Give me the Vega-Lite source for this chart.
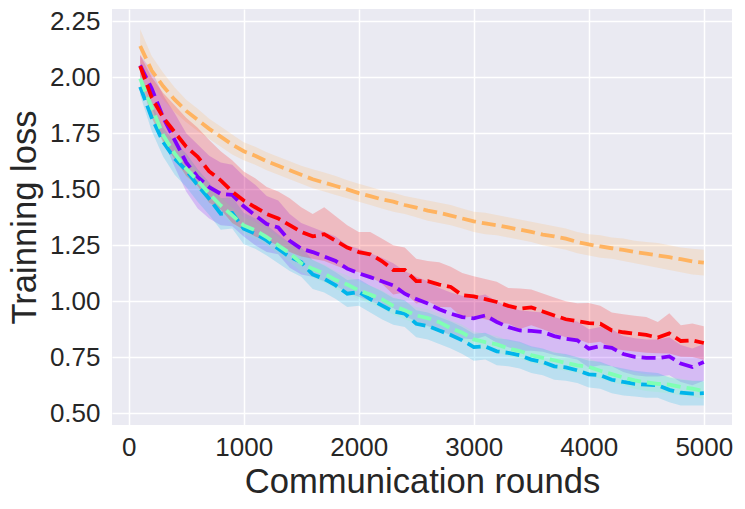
{
  "$schema": "https://vega.github.io/schema/vega-lite/v6.json",
  "width": 620,
  "height": 416,
  "autosize": {"type": "none"},
  "padding": {"left": 112, "top": 9, "right": 13, "bottom": 84},
  "background": "white",
  "config": {
    "view": {"fill": "#eaeaf2", "stroke": null},
    "axis": {
      "domain": false,
      "ticks": false,
      "grid": true,
      "gridColor": "white",
      "gridWidth": 1.5,
      "labelFont": "Liberation Sans",
      "labelFontSize": 26,
      "labelColor": "#262626",
      "titleFont": "Liberation Sans",
      "titleFontSize": 34.6,
      "titleFontWeight": "normal",
      "titleColor": "#262626"
    }
  },
  "datasets": {
    "loss": [
      {"s":"s1","r":100,"m":2.053,"lo":2.0,"hi":2.1},{"s":"s1","r":200,"m":1.95,"lo":1.87,"hi":2.03},{"s":"s1","r":300,"m":1.82,"lo":1.72,"hi":1.92},{"s":"s1","r":400,"m":1.72,"lo":1.6,"hi":1.84},{"s":"s1","r":500,"m":1.62,"lo":1.49,"hi":1.75},
      {"s":"s1","r":600,"m":1.555,"lo":1.415,"hi":1.7},{"s":"s1","r":700,"m":1.51,"lo":1.37,"hi":1.65},{"s":"s1","r":800,"m":1.48,"lo":1.34,"hi":1.62},{"s":"s1","r":900,"m":1.475,"lo":1.335,"hi":1.61},{"s":"s1","r":1000,"m":1.424,"lo":1.29,"hi":1.56},
      {"s":"s1","r":1100,"m":1.384,"lo":1.25,"hi":1.52},{"s":"s1","r":1200,"m":1.345,"lo":1.22,"hi":1.47},{"s":"s1","r":1300,"m":1.33,"lo":1.21,"hi":1.45},{"s":"s1","r":1400,"m":1.27,"lo":1.15,"hi":1.39},{"s":"s1","r":1500,"m":1.235,"lo":1.12,"hi":1.35},
      {"s":"s1","r":1600,"m":1.22,"lo":1.11,"hi":1.33},{"s":"s1","r":1700,"m":1.2,"lo":1.09,"hi":1.31},{"s":"s1","r":1800,"m":1.18,"lo":1.07,"hi":1.29},{"s":"s1","r":1900,"m":1.146,"lo":1.04,"hi":1.25},{"s":"s1","r":2000,"m":1.125,"lo":1.02,"hi":1.235},
      {"s":"s1","r":2100,"m":1.108,"lo":1.0,"hi":1.215},{"s":"s1","r":2200,"m":1.09,"lo":0.985,"hi":1.195},{"s":"s1","r":2300,"m":1.071,"lo":0.97,"hi":1.17},{"s":"s1","r":2400,"m":1.034,"lo":0.935,"hi":1.135},{"s":"s1","r":2500,"m":1.01,"lo":0.91,"hi":1.11},
      {"s":"s1","r":2600,"m":0.99,"lo":0.89,"hi":1.09},{"s":"s1","r":2700,"m":0.965,"lo":0.87,"hi":1.06},{"s":"s1","r":2800,"m":0.945,"lo":0.85,"hi":1.04},{"s":"s1","r":2900,"m":0.93,"lo":0.835,"hi":1.025},{"s":"s1","r":3000,"m":0.924,"lo":0.83,"hi":1.02},
      {"s":"s1","r":3100,"m":0.937,"lo":0.845,"hi":1.03},{"s":"s1","r":3200,"m":0.908,"lo":0.815,"hi":1.0},{"s":"s1","r":3300,"m":0.885,"lo":0.795,"hi":0.975},{"s":"s1","r":3400,"m":0.87,"lo":0.78,"hi":0.96},{"s":"s1","r":3500,"m":0.868,"lo":0.78,"hi":0.955},
      {"s":"s1","r":3600,"m":0.863,"lo":0.775,"hi":0.95},{"s":"s1","r":3700,"m":0.845,"lo":0.76,"hi":0.93},{"s":"s1","r":3800,"m":0.833,"lo":0.75,"hi":0.915},{"s":"s1","r":3900,"m":0.826,"lo":0.74,"hi":0.91},{"s":"s1","r":4000,"m":0.789,"lo":0.705,"hi":0.875},
      {"s":"s1","r":4100,"m":0.8,"lo":0.715,"hi":0.885},{"s":"s1","r":4200,"m":0.792,"lo":0.71,"hi":0.875},{"s":"s1","r":4300,"m":0.765,"lo":0.685,"hi":0.845},{"s":"s1","r":4400,"m":0.752,"lo":0.67,"hi":0.835},{"s":"s1","r":4500,"m":0.748,"lo":0.665,"hi":0.83},
      {"s":"s1","r":4600,"m":0.747,"lo":0.665,"hi":0.83},{"s":"s1","r":4700,"m":0.754,"lo":0.67,"hi":0.84},{"s":"s1","r":4800,"m":0.722,"lo":0.64,"hi":0.805},{"s":"s1","r":4900,"m":0.707,"lo":0.625,"hi":0.79},{"s":"s1","r":5000,"m":0.729,"lo":0.645,"hi":0.81},

      {"s":"s2","r":100,"m":1.957,"lo":1.92,"hi":1.995},{"s":"s2","r":200,"m":1.82,"lo":1.76,"hi":1.88},{"s":"s2","r":300,"m":1.711,"lo":1.645,"hi":1.775},{"s":"s2","r":400,"m":1.637,"lo":1.565,"hi":1.71},{"s":"s2","r":500,"m":1.585,"lo":1.51,"hi":1.66},
      {"s":"s2","r":600,"m":1.518,"lo":1.445,"hi":1.59},{"s":"s2","r":700,"m":1.458,"lo":1.385,"hi":1.53},{"s":"s2","r":800,"m":1.391,"lo":1.32,"hi":1.46},{"s":"s2","r":900,"m":1.395,"lo":1.325,"hi":1.465},{"s":"s2","r":1000,"m":1.324,"lo":1.255,"hi":1.395},
      {"s":"s2","r":1100,"m":1.302,"lo":1.235,"hi":1.37},{"s":"s2","r":1200,"m":1.272,"lo":1.205,"hi":1.34},{"s":"s2","r":1300,"m":1.235,"lo":1.17,"hi":1.3},{"s":"s2","r":1400,"m":1.198,"lo":1.135,"hi":1.26},{"s":"s2","r":1500,"m":1.175,"lo":1.11,"hi":1.24},
      {"s":"s2","r":1600,"m":1.12,"lo":1.055,"hi":1.185},{"s":"s2","r":1700,"m":1.1,"lo":1.04,"hi":1.16},{"s":"s2","r":1800,"m":1.071,"lo":1.01,"hi":1.13},{"s":"s2","r":1900,"m":1.034,"lo":0.975,"hi":1.095},{"s":"s2","r":2000,"m":1.042,"lo":0.98,"hi":1.1},
      {"s":"s2","r":2100,"m":1.01,"lo":0.95,"hi":1.07},{"s":"s2","r":2200,"m":0.982,"lo":0.92,"hi":1.045},{"s":"s2","r":2300,"m":0.955,"lo":0.895,"hi":1.015},{"s":"s2","r":2400,"m":0.945,"lo":0.885,"hi":1.005},{"s":"s2","r":2500,"m":0.9,"lo":0.84,"hi":0.96},
      {"s":"s2","r":2600,"m":0.89,"lo":0.83,"hi":0.95},{"s":"s2","r":2700,"m":0.87,"lo":0.81,"hi":0.93},{"s":"s2","r":2800,"m":0.85,"lo":0.79,"hi":0.91},{"s":"s2","r":2900,"m":0.826,"lo":0.765,"hi":0.885},{"s":"s2","r":3000,"m":0.796,"lo":0.735,"hi":0.855},
      {"s":"s2","r":3100,"m":0.799,"lo":0.74,"hi":0.86},{"s":"s2","r":3200,"m":0.777,"lo":0.715,"hi":0.835},{"s":"s2","r":3300,"m":0.77,"lo":0.71,"hi":0.83},{"s":"s2","r":3400,"m":0.759,"lo":0.7,"hi":0.82},{"s":"s2","r":3500,"m":0.74,"lo":0.68,"hi":0.8},
      {"s":"s2","r":3600,"m":0.729,"lo":0.67,"hi":0.79},{"s":"s2","r":3700,"m":0.71,"lo":0.65,"hi":0.77},{"s":"s2","r":3800,"m":0.705,"lo":0.645,"hi":0.765},{"s":"s2","r":3900,"m":0.692,"lo":0.635,"hi":0.75},{"s":"s2","r":4000,"m":0.674,"lo":0.615,"hi":0.735},
      {"s":"s2","r":4100,"m":0.67,"lo":0.61,"hi":0.73},{"s":"s2","r":4200,"m":0.65,"lo":0.59,"hi":0.71},{"s":"s2","r":4300,"m":0.64,"lo":0.58,"hi":0.7},{"s":"s2","r":4400,"m":0.632,"lo":0.575,"hi":0.69},{"s":"s2","r":4500,"m":0.628,"lo":0.57,"hi":0.685},
      {"s":"s2","r":4600,"m":0.625,"lo":0.57,"hi":0.68},{"s":"s2","r":4700,"m":0.605,"lo":0.55,"hi":0.66},{"s":"s2","r":4800,"m":0.592,"lo":0.535,"hi":0.65},{"s":"s2","r":4900,"m":0.588,"lo":0.535,"hi":0.645},{"s":"s2","r":5000,"m":0.59,"lo":0.535,"hi":0.645},

      {"s":"s3","r":100,"m":1.995,"lo":1.965,"hi":2.025},{"s":"s3","r":200,"m":1.867,"lo":1.83,"hi":1.905},{"s":"s3","r":300,"m":1.741,"lo":1.7,"hi":1.78},{"s":"s3","r":400,"m":1.659,"lo":1.62,"hi":1.7},{"s":"s3","r":500,"m":1.592,"lo":1.555,"hi":1.63},
      {"s":"s3","r":600,"m":1.54,"lo":1.5,"hi":1.58},{"s":"s3","r":700,"m":1.48,"lo":1.44,"hi":1.52},{"s":"s3","r":800,"m":1.428,"lo":1.39,"hi":1.465},{"s":"s3","r":900,"m":1.384,"lo":1.345,"hi":1.42},{"s":"s3","r":1000,"m":1.339,"lo":1.3,"hi":1.375},
      {"s":"s3","r":1100,"m":1.317,"lo":1.28,"hi":1.355},{"s":"s3","r":1200,"m":1.287,"lo":1.25,"hi":1.325},{"s":"s3","r":1300,"m":1.25,"lo":1.21,"hi":1.29},{"s":"s3","r":1400,"m":1.215,"lo":1.175,"hi":1.255},{"s":"s3","r":1500,"m":1.17,"lo":1.13,"hi":1.21},
      {"s":"s3","r":1600,"m":1.145,"lo":1.105,"hi":1.185},{"s":"s3","r":1700,"m":1.124,"lo":1.085,"hi":1.165},{"s":"s3","r":1800,"m":1.095,"lo":1.055,"hi":1.135},{"s":"s3","r":1900,"m":1.075,"lo":1.035,"hi":1.115},{"s":"s3","r":2000,"m":1.049,"lo":1.01,"hi":1.09},
      {"s":"s3","r":2100,"m":1.03,"lo":0.99,"hi":1.07},{"s":"s3","r":2200,"m":1.01,"lo":0.97,"hi":1.05},{"s":"s3","r":2300,"m":0.98,"lo":0.94,"hi":1.02},{"s":"s3","r":2400,"m":0.96,"lo":0.92,"hi":1.0},{"s":"s3","r":2500,"m":0.937,"lo":0.9,"hi":0.975},
      {"s":"s3","r":2600,"m":0.925,"lo":0.885,"hi":0.965},{"s":"s3","r":2700,"m":0.907,"lo":0.87,"hi":0.945},{"s":"s3","r":2800,"m":0.88,"lo":0.845,"hi":0.915},{"s":"s3","r":2900,"m":0.86,"lo":0.825,"hi":0.895},{"s":"s3","r":3000,"m":0.83,"lo":0.795,"hi":0.865},
      {"s":"s3","r":3100,"m":0.818,"lo":0.785,"hi":0.855},{"s":"s3","r":3200,"m":0.808,"lo":0.775,"hi":0.845},{"s":"s3","r":3300,"m":0.79,"lo":0.755,"hi":0.825},{"s":"s3","r":3400,"m":0.778,"lo":0.745,"hi":0.815},{"s":"s3","r":3500,"m":0.76,"lo":0.725,"hi":0.795},
      {"s":"s3","r":3600,"m":0.748,"lo":0.715,"hi":0.785},{"s":"s3","r":3700,"m":0.737,"lo":0.7,"hi":0.775},{"s":"s3","r":3800,"m":0.725,"lo":0.69,"hi":0.76},{"s":"s3","r":3900,"m":0.714,"lo":0.68,"hi":0.75},{"s":"s3","r":4000,"m":0.707,"lo":0.67,"hi":0.745},
      {"s":"s3","r":4100,"m":0.69,"lo":0.655,"hi":0.725},{"s":"s3","r":4200,"m":0.675,"lo":0.64,"hi":0.71},{"s":"s3","r":4300,"m":0.66,"lo":0.625,"hi":0.695},{"s":"s3","r":4400,"m":0.647,"lo":0.61,"hi":0.685},{"s":"s3","r":4500,"m":0.638,"lo":0.6,"hi":0.675},
      {"s":"s3","r":4600,"m":0.632,"lo":0.595,"hi":0.67},{"s":"s3","r":4700,"m":0.628,"lo":0.59,"hi":0.665},{"s":"s3","r":4800,"m":0.618,"lo":0.58,"hi":0.655},{"s":"s3","r":4900,"m":0.61,"lo":0.575,"hi":0.645},{"s":"s3","r":5000,"m":0.6,"lo":0.565,"hi":0.64},

      {"s":"s4","r":100,"m":2.14,"lo":2.065,"hi":2.215},{"s":"s4","r":200,"m":2.03,"lo":1.965,"hi":2.095},{"s":"s4","r":300,"m":1.96,"lo":1.9,"hi":2.02},{"s":"s4","r":400,"m":1.9,"lo":1.845,"hi":1.955},{"s":"s4","r":500,"m":1.85,"lo":1.8,"hi":1.9},
      {"s":"s4","r":600,"m":1.81,"lo":1.76,"hi":1.86},{"s":"s4","r":700,"m":1.77,"lo":1.725,"hi":1.815},{"s":"s4","r":800,"m":1.735,"lo":1.69,"hi":1.78},{"s":"s4","r":900,"m":1.7,"lo":1.655,"hi":1.745},{"s":"s4","r":1000,"m":1.67,"lo":1.63,"hi":1.71},
      {"s":"s4","r":1100,"m":1.65,"lo":1.61,"hi":1.69},{"s":"s4","r":1200,"m":1.625,"lo":1.585,"hi":1.665},{"s":"s4","r":1300,"m":1.605,"lo":1.565,"hi":1.645},{"s":"s4","r":1400,"m":1.585,"lo":1.545,"hi":1.625},{"s":"s4","r":1500,"m":1.565,"lo":1.525,"hi":1.605},
      {"s":"s4","r":1600,"m":1.545,"lo":1.505,"hi":1.59},{"s":"s4","r":1700,"m":1.53,"lo":1.49,"hi":1.575},{"s":"s4","r":1800,"m":1.515,"lo":1.475,"hi":1.56},{"s":"s4","r":1900,"m":1.5,"lo":1.46,"hi":1.54},{"s":"s4","r":2000,"m":1.483,"lo":1.445,"hi":1.525},
      {"s":"s4","r":2100,"m":1.47,"lo":1.43,"hi":1.51},{"s":"s4","r":2200,"m":1.455,"lo":1.415,"hi":1.495},{"s":"s4","r":2300,"m":1.445,"lo":1.4,"hi":1.485},{"s":"s4","r":2400,"m":1.43,"lo":1.39,"hi":1.47},{"s":"s4","r":2500,"m":1.418,"lo":1.375,"hi":1.46},
      {"s":"s4","r":2600,"m":1.405,"lo":1.36,"hi":1.45},{"s":"s4","r":2700,"m":1.395,"lo":1.35,"hi":1.44},{"s":"s4","r":2800,"m":1.383,"lo":1.34,"hi":1.43},{"s":"s4","r":2900,"m":1.37,"lo":1.325,"hi":1.415},{"s":"s4","r":3000,"m":1.357,"lo":1.31,"hi":1.4},
      {"s":"s4","r":3100,"m":1.348,"lo":1.3,"hi":1.395},{"s":"s4","r":3200,"m":1.34,"lo":1.295,"hi":1.385},{"s":"s4","r":3300,"m":1.33,"lo":1.285,"hi":1.375},{"s":"s4","r":3400,"m":1.32,"lo":1.275,"hi":1.365},{"s":"s4","r":3500,"m":1.31,"lo":1.265,"hi":1.355},
      {"s":"s4","r":3600,"m":1.298,"lo":1.25,"hi":1.345},{"s":"s4","r":3700,"m":1.29,"lo":1.24,"hi":1.335},{"s":"s4","r":3800,"m":1.28,"lo":1.23,"hi":1.325},{"s":"s4","r":3900,"m":1.265,"lo":1.215,"hi":1.31},{"s":"s4","r":4000,"m":1.254,"lo":1.205,"hi":1.3},
      {"s":"s4","r":4100,"m":1.245,"lo":1.195,"hi":1.295},{"s":"s4","r":4200,"m":1.237,"lo":1.19,"hi":1.285},{"s":"s4","r":4300,"m":1.23,"lo":1.18,"hi":1.28},{"s":"s4","r":4400,"m":1.22,"lo":1.17,"hi":1.27},{"s":"s4","r":4500,"m":1.213,"lo":1.16,"hi":1.265},
      {"s":"s4","r":4600,"m":1.205,"lo":1.15,"hi":1.26},{"s":"s4","r":4700,"m":1.197,"lo":1.14,"hi":1.25},{"s":"s4","r":4800,"m":1.188,"lo":1.13,"hi":1.24},{"s":"s4","r":4900,"m":1.178,"lo":1.12,"hi":1.235},{"s":"s4","r":5000,"m":1.173,"lo":1.115,"hi":1.23},

      {"s":"s5","r":100,"m":2.05,"lo":2.0,"hi":2.1},{"s":"s5","r":200,"m":1.91,"lo":1.82,"hi":2.0},{"s":"s5","r":300,"m":1.82,"lo":1.71,"hi":1.93},{"s":"s5","r":400,"m":1.755,"lo":1.635,"hi":1.875},{"s":"s5","r":500,"m":1.69,"lo":1.56,"hi":1.82},
      {"s":"s5","r":600,"m":1.645,"lo":1.515,"hi":1.775},{"s":"s5","r":700,"m":1.58,"lo":1.44,"hi":1.72},{"s":"s5","r":800,"m":1.54,"lo":1.41,"hi":1.67},{"s":"s5","r":900,"m":1.49,"lo":1.35,"hi":1.63},{"s":"s5","r":1000,"m":1.45,"lo":1.32,"hi":1.58},
      {"s":"s5","r":1100,"m":1.42,"lo":1.29,"hi":1.55},{"s":"s5","r":1200,"m":1.39,"lo":1.27,"hi":1.51},{"s":"s5","r":1300,"m":1.37,"lo":1.25,"hi":1.49},{"s":"s5","r":1400,"m":1.34,"lo":1.22,"hi":1.46},{"s":"s5","r":1500,"m":1.31,"lo":1.2,"hi":1.42},
      {"s":"s5","r":1600,"m":1.29,"lo":1.19,"hi":1.39},{"s":"s5","r":1700,"m":1.3,"lo":1.18,"hi":1.42},{"s":"s5","r":1800,"m":1.27,"lo":1.16,"hi":1.38},{"s":"s5","r":1900,"m":1.24,"lo":1.14,"hi":1.34},{"s":"s5","r":2000,"m":1.22,"lo":1.13,"hi":1.31},
      {"s":"s5","r":2100,"m":1.21,"lo":1.11,"hi":1.31},{"s":"s5","r":2200,"m":1.18,"lo":1.08,"hi":1.28},{"s":"s5","r":2300,"m":1.14,"lo":1.03,"hi":1.25},{"s":"s5","r":2400,"m":1.14,"lo":1.04,"hi":1.24},{"s":"s5","r":2500,"m":1.09,"lo":0.99,"hi":1.19},
      {"s":"s5","r":2600,"m":1.09,"lo":1.0,"hi":1.18},{"s":"s5","r":2700,"m":1.075,"lo":0.975,"hi":1.175},{"s":"s5","r":2800,"m":1.064,"lo":0.974,"hi":1.154},{"s":"s5","r":2900,"m":1.027,"lo":0.927,"hi":1.127},{"s":"s5","r":3000,"m":1.022,"lo":0.932,"hi":1.112},
      {"s":"s5","r":3100,"m":1.01,"lo":0.92,"hi":1.1},{"s":"s5","r":3200,"m":0.997,"lo":0.907,"hi":1.087},{"s":"s5","r":3300,"m":0.98,"lo":0.9,"hi":1.06},{"s":"s5","r":3400,"m":0.967,"lo":0.877,"hi":1.057},{"s":"s5","r":3500,"m":0.973,"lo":0.893,"hi":1.053},
      {"s":"s5","r":3600,"m":0.955,"lo":0.875,"hi":1.035},{"s":"s5","r":3700,"m":0.937,"lo":0.857,"hi":1.017},{"s":"s5","r":3800,"m":0.92,"lo":0.84,"hi":1.0},{"s":"s5","r":3900,"m":0.912,"lo":0.832,"hi":0.992},{"s":"s5","r":4000,"m":0.903,"lo":0.813,"hi":0.993},
      {"s":"s5","r":4100,"m":0.9,"lo":0.82,"hi":0.98},{"s":"s5","r":4200,"m":0.87,"lo":0.79,"hi":0.95},{"s":"s5","r":4300,"m":0.862,"lo":0.782,"hi":0.942},{"s":"s5","r":4400,"m":0.856,"lo":0.776,"hi":0.936},{"s":"s5","r":4500,"m":0.85,"lo":0.77,"hi":0.93},
      {"s":"s5","r":4600,"m":0.838,"lo":0.768,"hi":0.908},{"s":"s5","r":4700,"m":0.857,"lo":0.767,"hi":0.947},{"s":"s5","r":4800,"m":0.823,"lo":0.753,"hi":0.893},{"s":"s5","r":4900,"m":0.826,"lo":0.751,"hi":0.901},{"s":"s5","r":5000,"m":0.814,"lo":0.739,"hi":0.889}
    ]
  },
  "data": {"name": "loss"},
  "encoding": {
    "x": {
      "field": "r",
      "type": "quantitative",
      "scale": {"domain": [-145, 5245], "nice": false, "zero": false},
      "axis": {
        "values": [0, 1000, 2000, 3000, 4000, 5000],
        "format": "d",
        "labelPadding": 9,
        "title": "Communication rounds",
        "titleX": 310,
        "titleY": 67,
        "titleBaseline": "alphabetic"
      }
    },
    "color": {
      "field": "s",
      "type": "nominal",
      "scale": {
        "domain": ["s1", "s2", "s3", "s4", "s5"],
        "range": ["#8000ff", "#00b5eb", "#80ffb4", "#ffb360", "#ff0000"]
      },
      "legend": null
    }
  },
  "layer": [
    {
      "mark": {"type": "area", "opacity": 0.2},
      "encoding": {
        "y": {
          "field": "lo",
          "type": "quantitative",
          "scale": {"domain": [0.448, 2.305], "nice": false, "zero": false},
          "axis": {
            "values": [0.5, 0.75, 1.0, 1.25, 1.5, 1.75, 2.0, 2.25],
            "format": ".2f",
            "labelPadding": 12,
            "title": "Trainning loss",
            "titleX": -77,
            "titleY": 208,
            "titleBaseline": "alphabetic"
          }
        },
        "y2": {"field": "hi"}
      }
    },
    {
      "mark": {"type": "line", "strokeWidth": 3.8, "strokeDash": [14, 6]},
      "encoding": {
        "y": {"field": "m", "type": "quantitative"}
      }
    }
  ]
}
